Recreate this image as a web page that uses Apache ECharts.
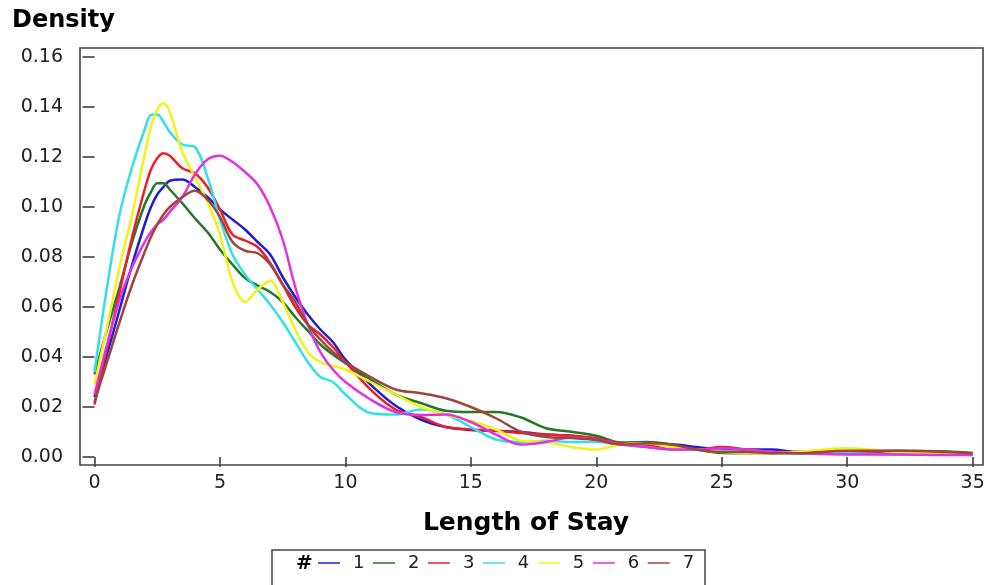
<!DOCTYPE html>
<html>
<head>
<meta charset="utf-8">
<script src="https://cdn.jsdelivr.net/npm/echarts@6/dist/echarts.min.js"></script>
<style>html,body{margin:0;padding:0;background:#fff;}#c{width:989px;height:585px;}</style>
</head>
<body>
<div id="c"></div>
<script>
// Length of stay grid (x values)
var los = [0,0.5,1,1.5,2,2.25,2.5,2.75,3,3.5,4,4.5,5,5.5,6,6.5,7,7.5,8,8.5,9,9.5,10,11,12,13,14,15,16,17,18,19,20,21,22,23,24,25,26,27,28,30,32,34,35];

var s1 = [0.024,0.041,0.059,0.077,0.093,0.100,0.105,0.108,0.1105,0.111,0.108,0.104,0.099,0.095,0.091,0.086,0.081,0.072,0.064,0.057,0.051,0.046,0.039,0.029,0.0205,0.015,0.012,0.0108,0.0105,0.0100,0.009,0.0085,0.0068,0.005,0.005,0.005,0.004,0.003,0.003,0.003,0.002,0.002,0.0015,0.0015,0.001];
var s2 = [0.033,0.051,0.068,0.086,0.101,0.106,0.1095,0.1095,0.107,0.1015,0.0955,0.090,0.083,0.077,0.0716,0.0686,0.066,0.062,0.056,0.0505,0.045,0.041,0.0375,0.031,0.025,0.0216,0.0185,0.018,0.018,0.0158,0.0115,0.0101,0.0085,0.0058,0.006,0.005,0.003,0.0016,0.0015,0.0015,0.0018,0.002,0.0025,0.0022,0.0016];
var s3 = [0.021,0.044,0.066,0.088,0.107,0.115,0.1195,0.1215,0.1205,0.1155,0.1135,0.108,0.099,0.089,0.0866,0.084,0.0776,0.069,0.060,0.053,0.049,0.044,0.038,0.027,0.019,0.016,0.012,0.011,0.0105,0.0096,0.009,0.0085,0.0075,0.0055,0.005,0.003,0.003,0.004,0.003,0.002,0.002,0.002,0.002,0.0015,0.001];
var s4 = [0.034,0.068,0.097,0.116,0.131,0.1368,0.137,0.134,0.130,0.125,0.124,0.112,0.095,0.081,0.073,0.067,0.061,0.054,0.046,0.038,0.032,0.030,0.025,0.0176,0.017,0.019,0.017,0.012,0.007,0.006,0.0065,0.006,0.006,0.005,0.004,0.003,0.003,0.0025,0.002,0.0018,0.0015,0.0015,0.001,0.001,0.0008];
var s5 = [0.029,0.052,0.076,0.097,0.121,0.132,0.139,0.1415,0.138,0.122,0.112,0.102,0.089,0.070,0.062,0.067,0.0705,0.062,0.051,0.042,0.038,0.0365,0.035,0.030,0.025,0.020,0.017,0.0145,0.011,0.0065,0.006,0.004,0.003,0.005,0.0055,0.004,0.003,0.002,0.0015,0.0015,0.002,0.0035,0.002,0.0015,0.001];
var s6 = [0.025,0.045,0.063,0.076,0.086,0.090,0.093,0.095,0.098,0.104,0.113,0.119,0.1205,0.118,0.114,0.109,0.100,0.087,0.068,0.053,0.042,0.035,0.030,0.023,0.018,0.0168,0.017,0.014,0.009,0.005,0.006,0.0078,0.007,0.005,0.004,0.003,0.003,0.0035,0.003,0.002,0.0015,0.001,0.001,0.0008,0.0008];
var s7 = [0.022,0.038,0.054,0.069,0.082,0.088,0.093,0.097,0.100,0.104,0.1065,0.103,0.096,0.086,0.0825,0.0815,0.077,0.069,0.062,0.053,0.047,0.042,0.038,0.032,0.027,0.0255,0.0235,0.020,0.0155,0.0101,0.008,0.0076,0.0068,0.005,0.0055,0.005,0.003,0.002,0.002,0.0015,0.0015,0.0025,0.0025,0.002,0.0015];

var seriesNames = ['1','2','3','4','5','6','7'];
var seriesValues = [s1,s2,s3,s4,s5,s6,s7];
var seriesColors = ['#1f1fd0','#237a23','#e8202a','#33e0e8','#f2f21a','#e033e0','#a0453c'];

var FONT = 'DejaVu Sans';

var chart = echarts.init(document.getElementById('c'), null, {renderer:'canvas'});

var series = seriesNames.map(function(n, i){
  return {
    name: n,
    type: 'line',
    smooth: 0.35,
    showSymbol: false,
    symbol: 'none',
    clip: false,
    data: los.map(function(x, j){ return [x, seriesValues[i][j]]; }),
    lineStyle: {width: 2.5, color: seriesColors[i]},
    itemStyle: {color: seriesColors[i]},
    z: 3
  };
});

chart.setOption({
  animation: false,
  backgroundColor: '#fff',
  grid: {left: 94.5, right: 16.3, top: 57, bottom: 128, containLabel: false},
  xAxis: {
    type: 'value', min: 0, max: 35, interval: 5, offset: 8,
    axisLine: {show: false},
    axisTick: {show: true, length: 10, inside: false, lineStyle: {color: '#333', width: 1.5}},
    axisLabel: {show: true, margin: 9, fontFamily: FONT, fontSize: 19, color: '#222'},
    splitLine: {show: false}
  },
  yAxis: {
    type: 'value', min: 0, max: 0.16, interval: 0.02, offset: 14.5,
    axisLine: {show: false},
    axisTick: {show: true, length: 12, inside: false, lineStyle: {color: '#333', width: 1.5}},
    axisLabel: {show: true, margin: 17, fontFamily: FONT, fontSize: 19, color: '#222',
      formatter: function(v){ return v.toFixed(2); }},
    splitLine: {show: false}
  },
  legend: {
    data: seriesNames,
    left: 318, top: 554,
    icon: 'rect', itemWidth: 22, itemHeight: 1.5, itemGap: 8.5,
    padding: 0,
    textStyle: {fontFamily: FONT, fontSize: 18, color: '#222', lineHeight: 18, padding: [0,0,0,8]}
  },
  graphic: [
    {type: 'rect', shape: {x: 80, y: 48, width: 903, height: 417}, style: {fill: 'none', stroke: '#444', lineWidth: 1.6}, z: 10},
    {type: 'text', left: 12, top: 9, style: {text: 'Density', font: 'bold 24px "DejaVu Sans"', fill: '#000'}},
    {type: 'text', x: 526, y: 523, style: {text: 'Length of Stay', font: 'bold 25px "DejaVu Sans"', fill: '#000', align: 'center', verticalAlign: 'middle'}},
    {type: 'rect', shape: {x: 272, y: 550, width: 433, height: 45}, style: {fill: '#fff', stroke: '#444', lineWidth: 1.5}, z: 0},
    {type: 'text', x: 296, y: 564, style: {text: '#', font: 'bold 20px "DejaVu Sans"', fill: '#000', verticalAlign: 'middle'}, z: 1}
  ],
  series: series
});
</script>
</body>
</html>
